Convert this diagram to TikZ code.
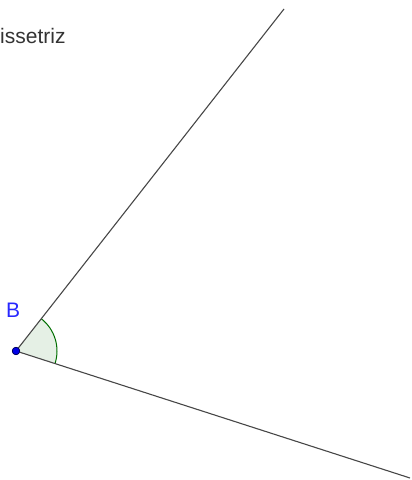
\documentclass[tikz,border=0pt]{standalone}
\usepackage{fontspec}
\setmainfont{Liberation Sans}
\usetikzlibrary{angles}

\definecolor{anglegreen}{RGB}{0,110,0}
\definecolor{ptblue}{RGB}{0,0,230}
\definecolor{ptedge}{RGB}{0,0,90}
\definecolor{lblblue}{RGB}{40,40,255}

\begin{document}
\begin{tikzpicture}[x=1pt, y=1pt,
  ray/.style={line width=1.1pt, draw=black!72},
  ptdot/.style={circle, fill=ptblue, draw=ptedge, line width=0.6pt, inner sep=0pt, minimum size=7.5pt}]

\useasboundingbox (0,0) rectangle (412,480);

% vertex and ray ends
\node[ptdot] (B) at (16,129) {};
\coordinate (P) at (284,471);
\coordinate (Q) at (410,2);

% angle
\pic[draw=anglegreen, fill=anglegreen, fill opacity=0.1, draw opacity=1, line width=1pt, angle radius=41pt] {angle = Q--B--P};

% rays
\draw[ray] (B.center) -- (P);
\draw[ray] (B.center) -- (Q);
\node[ptdot] at (B) {};

% labels
\node[anchor=base west, inner sep=0pt, text=lblblue, font=\fontsize{21}{25}\selectfont] (lblB) at (6,162) {B};
\node[anchor=base west, inner sep=0pt, text=black!80, font=\fontsize{21}{25}\selectfont] (bis) at (0,436) {issetriz};

\end{tikzpicture}
\end{document}
